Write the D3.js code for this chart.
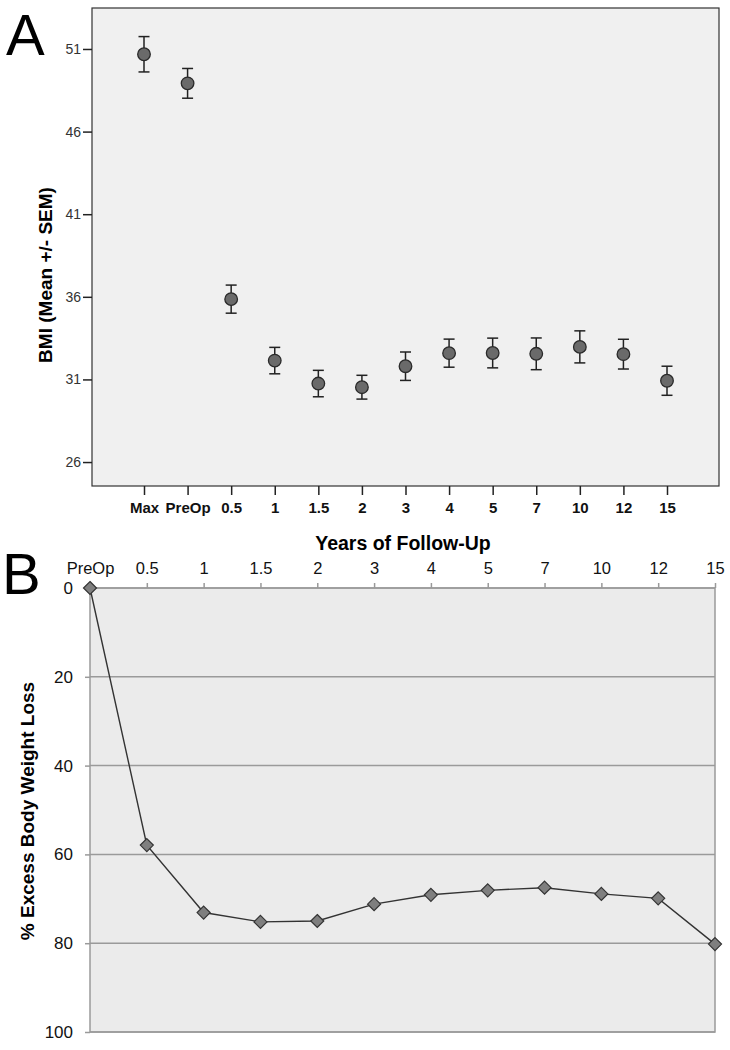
<!DOCTYPE html>
<html>
<head>
<meta charset="utf-8">
<script src="https://cdn.jsdelivr.net/npm/d3@7"></script>
<style>
  body { margin: 0; background: #fff; }
  svg { display: block; font-family: "Liberation Sans", Arial, sans-serif; }
</style>
</head>
<body>
<div id="chart"></div>
<script>
// panel A: BMI mean +/- SEM
const bmiCats = ["Max", "PreOp", "0.5", "1", "1.5", "2", "3", "4", "5", "7", "10", "12", "15"];
const bmiMean = [50.68, 48.92, 35.86, 32.14, 30.75, 30.53, 31.80, 32.59, 32.60, 32.55, 32.97, 32.53, 30.92];
const bmiSem = [1.07, 0.90, 0.85, 0.80, 0.80, 0.72, 0.86, 0.85, 0.90, 0.96, 0.97, 0.90, 0.88];
const bmiTicks = [26, 31, 36, 41, 46, 51];

// panel B: % excess body weight loss
const ewlCats = ["PreOp", "0.5", "1", "1.5", "2", "3", "4", "5", "7", "10", "12", "15"];
const ewlValues = [0, 57.9, 73.1, 75.2, 75.0, 71.2, 69.1, 68.1, 67.5, 68.9, 69.9, 80.2];
const ewlTicks = [0, 20, 40, 60, 80, 100];

const svg = d3.select("#chart").append("svg")
  .attr("width", 730)
  .attr("height", 1050);

// ---------- Panel A ----------
const A = { left: 92, right: 719, top: 8, bottom: 486 };

svg.append("text")
  .attr("x", 6).attr("y", 55)
  .attr("font-size", 58)
  .text("A");

svg.append("rect")
  .attr("x", A.left).attr("y", A.top)
  .attr("width", A.right - A.left).attr("height", A.bottom - A.top)
  .attr("fill", "#f0f0f0")
  .attr("stroke", "#333").attr("stroke-width", 1.2);

const xA = d3.scalePoint().domain(bmiCats).range([144, 667]);
const yA = d3.scaleLinear().domain([24.55, 53.48]).range([A.bottom, A.top]);

// y axis
const yAxisA = svg.append("g")
  .attr("transform", `translate(${A.left},0)`)
  .call(d3.axisLeft(yA).tickValues(bmiTicks).tickSize(9).tickPadding(2));
yAxisA.select(".domain").remove();
yAxisA.selectAll("line").attr("stroke", "#222").attr("stroke-width", 1.5);
yAxisA.selectAll("text").attr("font-size", 14).attr("fill", "#333")
  .attr("font-family", "Liberation Sans, Arial, sans-serif");

// x axis
const xAxisA = svg.append("g")
  .attr("transform", `translate(0,${A.bottom})`)
  .call(d3.axisBottom(xA).tickSize(9).tickPadding(7));
xAxisA.select(".domain").remove();
xAxisA.selectAll("line").attr("stroke", "#222").attr("stroke-width", 1.5);
xAxisA.selectAll("text").attr("font-size", 15).attr("font-weight", "bold").attr("fill", "#111")
  .attr("font-family", "'Liberation Sans Narrow', 'Arial Narrow', 'Liberation Sans', sans-serif");

svg.append("text")
  .attr("x", 403).attr("y", 550)
  .attr("text-anchor", "middle")
  .attr("font-size", 19.5).attr("font-weight", "bold")
  .text("Years of Follow-Up");

svg.append("text")
  .attr("transform", `translate(52,275) rotate(-90)`)
  .attr("text-anchor", "middle")
  .attr("font-size", 19).attr("font-weight", "bold")
  .text("BMI (Mean +/- SEM)");

// error bars
const bars = svg.append("g").selectAll("g")
  .data(bmiCats.map((c, i) => ({ c, m: bmiMean[i], s: bmiSem[i] })))
  .join("g")
  .attr("stroke", "#222").attr("stroke-width", 1.5);
bars.append("line")
  .attr("x1", d => xA(d.c)).attr("x2", d => xA(d.c))
  .attr("y1", d => yA(d.m + d.s)).attr("y2", d => yA(d.m - d.s));
bars.append("line")
  .attr("x1", d => xA(d.c) - 5.5).attr("x2", d => xA(d.c) + 5.5)
  .attr("y1", d => yA(d.m + d.s)).attr("y2", d => yA(d.m + d.s));
bars.append("line")
  .attr("x1", d => xA(d.c) - 5.5).attr("x2", d => xA(d.c) + 5.5)
  .attr("y1", d => yA(d.m - d.s)).attr("y2", d => yA(d.m - d.s));
bars.append("circle")
  .attr("cx", d => xA(d.c)).attr("cy", d => yA(d.m))
  .attr("r", 6.3)
  .attr("fill", "#6a6a6a").attr("stroke", "#2a2a2a").attr("stroke-width", 1.3);

// ---------- Panel B ----------
const B = { left: 90, right: 715, top: 588, bottom: 1032 };

svg.append("text")
  .attr("x", 2).attr("y", 594)
  .attr("font-size", 58)
  .text("B");

svg.append("rect")
  .attr("x", B.left).attr("y", B.top)
  .attr("width", B.right - B.left).attr("height", B.bottom - B.top)
  .attr("fill", "#ebebeb")
  .attr("stroke", "#9a9a9a").attr("stroke-width", 1.5);

const xB = d3.scalePoint().domain(ewlCats).range([B.left, B.right]);
const yB = d3.scaleLinear().domain([0, 100]).range([B.top, B.bottom]);

// gridlines
svg.append("g").selectAll("line")
  .data(ewlTicks)
  .join("line")
  .attr("x1", B.left).attr("x2", B.right)
  .attr("y1", d => yB(d)).attr("y2", d => yB(d))
  .attr("stroke", "#9a9a9a").attr("stroke-width", 1.5);

const yAxisB = svg.append("g")
  .attr("transform", `translate(${B.left},0)`)
  .call(d3.axisLeft(yB).tickValues(ewlTicks).tickSize(5).tickPadding(12));
yAxisB.select(".domain").remove();
yAxisB.selectAll("line").attr("stroke", "#9a9a9a").attr("stroke-width", 1.5);
yAxisB.selectAll("text").attr("font-size", 17).attr("fill", "#111")
  .attr("font-family", "Liberation Sans, Arial, sans-serif");

const xAxisB = svg.append("g")
  .attr("transform", `translate(0,${B.top})`)
  .call(d3.axisTop(xB).tickSize(5).tickPadding(9));
xAxisB.select(".domain").remove();
xAxisB.selectAll("line").attr("stroke", "#9a9a9a").attr("stroke-width", 1.5);
xAxisB.selectAll("text").attr("font-size", 16.5).attr("fill", "#111")
  .attr("font-family", "Liberation Sans, Arial, sans-serif");

svg.append("text")
  .attr("transform", `translate(34,811) rotate(-90)`)
  .attr("text-anchor", "middle")
  .attr("font-size", 19).attr("font-weight", "bold")
  .text("% Excess Body Weight Loss");

const line = d3.line()
  .x((d, i) => xB(ewlCats[i]))
  .y(d => yB(d));

svg.append("path")
  .datum(ewlValues)
  .attr("d", line)
  .attr("fill", "none")
  .attr("stroke", "#333").attr("stroke-width", 1.4);

svg.append("g").selectAll("path")
  .data(ewlValues)
  .join("path")
  .attr("transform", (d, i) => `translate(${xB(ewlCats[i])},${yB(d)})`)
  .attr("d", "M0,-6.5L6.5,0L0,6.5L-6.5,0Z")
  .attr("fill", "#7f7f7f")
  .attr("stroke", "#333").attr("stroke-width", 1.2);
</script>
</body>
</html>
